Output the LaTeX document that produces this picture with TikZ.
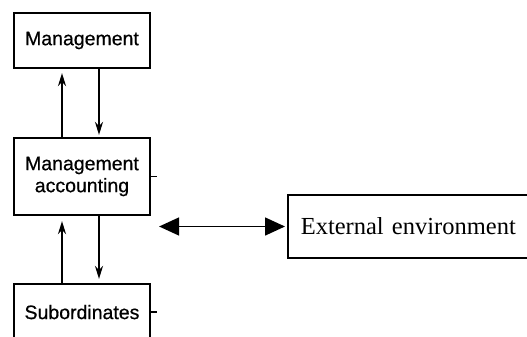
\documentclass[tikz,border=0pt]{standalone}
\usepackage{fontspec}
\setmainfont{Liberation Serif}
\newfontfamily\boxfont{Liberation Sans}[FakeBold=0.6]
\usetikzlibrary{arrows.meta}
\begin{document}
\begin{tikzpicture}[x=1pt,y=-1pt,
  unitbox/.style={draw,line width=2.2pt,minimum width=136pt,inner sep=0pt,
    align=center,font=\boxfont\fontsize{19.5}{22}\selectfont},
  flow/.style={line width=2.2pt,-{Stealth[length=13pt,width=8pt]}},
  envbox/.style={draw,line width=1.6pt,minimum height=63pt,text width=254pt,
    inner xsep=13pt,align=left,font=\fontsize{24.5}{28}\selectfont},
  biarrow/.style={line width=1.6pt,{Triangle[length=20pt,width=18pt]}-{Triangle[length=20pt,width=18pt]}},
  tick/.style={line width=1.4pt}]
\useasboundingbox (0,0) rectangle (527,337);
\clip (0,0) rectangle (527,337);

\node[unitbox,minimum height=55pt] (mg) at (82,40.5) {Management};
\node[unitbox,minimum height=77pt] (ma) at (82,176.5) {Management\\accounting};
\node[unitbox,minimum height=60pt] (sub) at (82,314) {\raisebox{4pt}{Subordinates}};
\node[envbox,anchor=west] (ext) at (287,226.5) {External environment};

% vertical reporting lines
\draw[flow,shorten >=4pt] ([xshift=-20pt]ma.north) -- ([xshift=-20pt]mg.south);
\draw[flow,shorten >=2pt] ([xshift=17pt]mg.south) -- ([xshift=17pt]ma.north);
\draw[flow,shorten >=5pt] ([xshift=-20pt]sub.north) -- ([xshift=-20pt]ma.south);
\draw[flow,shorten >=4pt] ([xshift=17pt]ma.south) -- ([xshift=17pt]sub.north);

% link to the environment
\coordinate (envL) at ([xshift=8pt]ma.east |- ext.west);
\draw[biarrow,shorten >=2pt] (envL) -- (ext.west);

% small side ticks
\draw[tick] (ma.east) -- ++(6pt,0);
\draw[tick] ([yshift=2pt]sub.east) -- ++(6pt,0);
\end{tikzpicture}
\end{document}
